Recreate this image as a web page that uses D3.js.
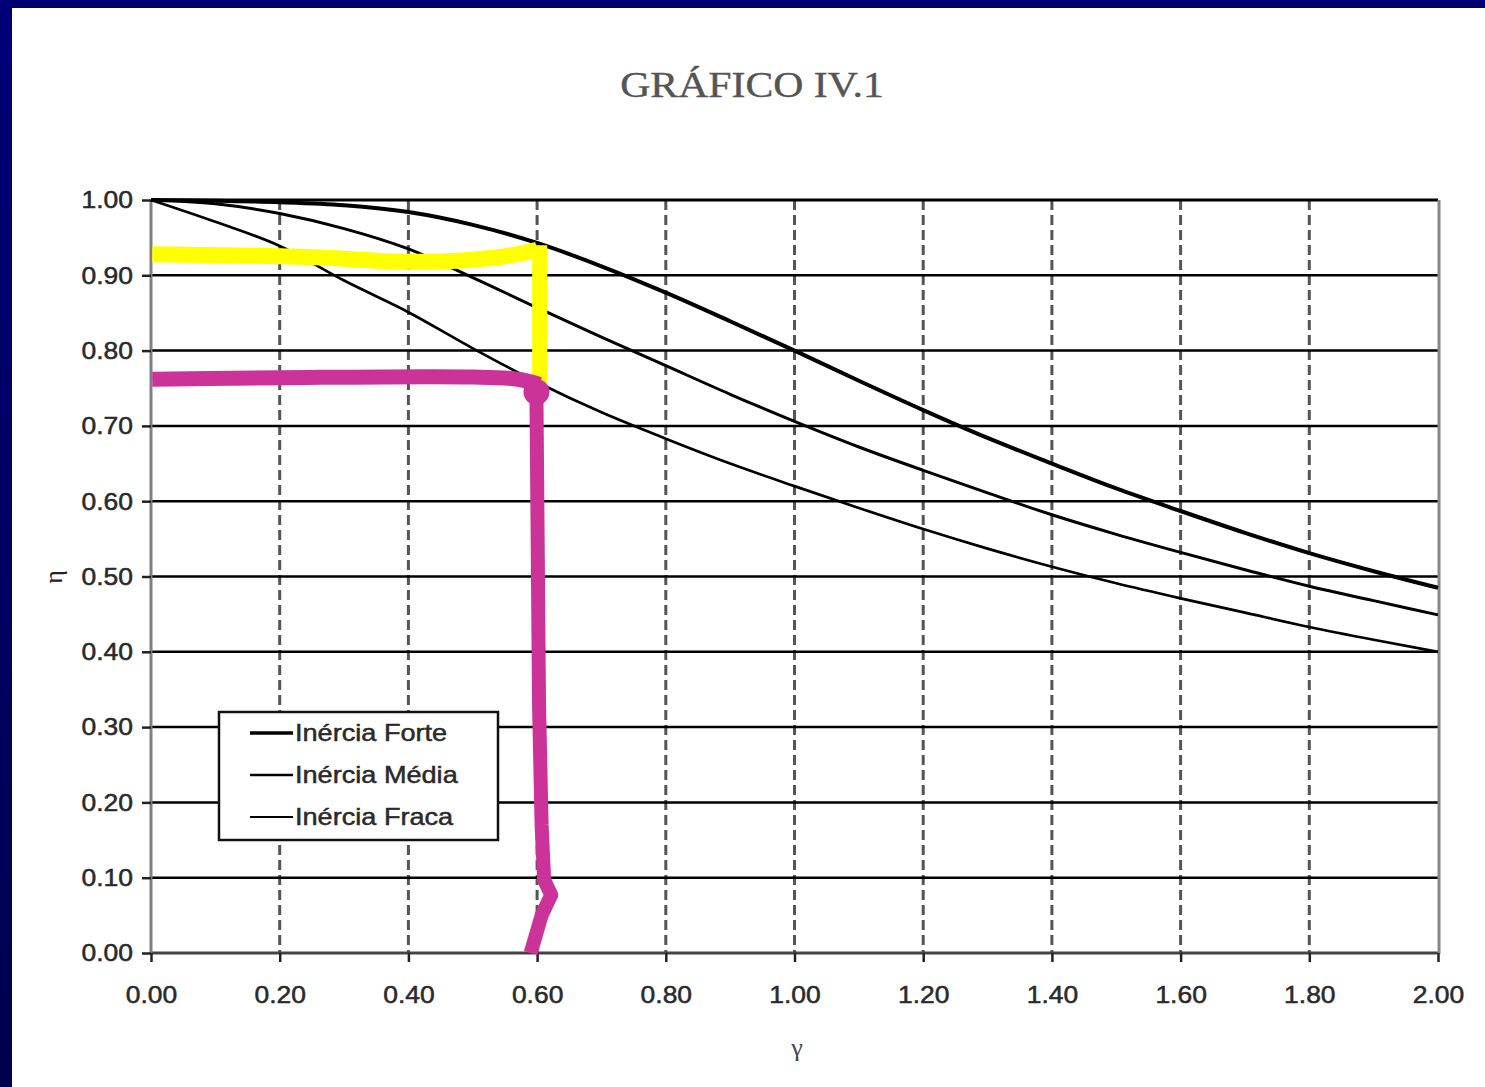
<!DOCTYPE html>
<html><head><meta charset="utf-8">
<script src="https://cdn.jsdelivr.net/npm/d3@7"></script>
<style>
html,body{margin:0;padding:0;background:#fff;}
svg{display:block;}
</style></head>
<body>
<script>
// ---- data ----
const gammaValues = [0,0.1,0.2,0.3,0.4,0.5,0.6,0.7,0.8,0.9,1.0,1.1,1.2,1.3,1.4,1.5,1.6,1.7,1.8,1.9,2.0];
const inerciaForte = [1.000,0.999,0.997,0.993,0.984,0.967,0.943,0.912,0.877,0.839,0.800,0.760,0.721,0.684,0.650,0.617,0.587,0.558,0.531,0.507,0.485];
const inerciaMedia = [1.000,0.995,0.982,0.962,0.935,0.897,0.857,0.818,0.780,0.742,0.706,0.672,0.641,0.611,0.582,0.556,0.532,0.509,0.487,0.468,0.449];
const inerciaFraca = [1.000,0.971,0.939,0.893,0.851,0.803,0.758,0.718,0.683,0.650,0.620,0.591,0.563,0.537,0.513,0.491,0.471,0.452,0.433,0.416,0.400];
const seriesNames = ["Inércia Forte","Inércia Média","Inércia Fraca"];
const yTicks = [0,0.1,0.2,0.3,0.4,0.5,0.6,0.7,0.8,0.9,1.0];
const xTicks = [0,0.2,0.4,0.6,0.8,1.0,1.2,1.4,1.6,1.8,2.0];
// hand-drawn highlighter strokes, in data units (gamma, eta)
const yellowStroke = [[0.002,0.928],[0.15,0.926],[0.28,0.923],[0.39,0.918],[0.49,0.920],[0.555,0.926],[0.60,0.934]];
const yellowVertical = [[0.604,0.940],[0.604,0.756]];
const magentaStroke = [[0.002,0.762],[0.2,0.764],[0.5,0.765],[0.57,0.762],[0.604,0.755]];
const magentaDot = [0.599,0.745];
const magentaVertical = [[0.599,0.740],[0.603,0.33],[0.607,0.17],[0.611,0.097],[0.622,0.077],[0.607,0.05],[0.590,0.000]];

const W = 1485, H = 1087;
const svg = d3.select("body").append("svg").attr("width", W).attr("height", H);

// frame
const defs = svg.append("defs");
const g1 = defs.append("linearGradient").attr("id","lb").attr("x1",0).attr("y1",0).attr("x2",0).attr("y2",1);
g1.append("stop").attr("offset","0%").attr("stop-color","#000078");
g1.append("stop").attr("offset","100%").attr("stop-color","#00004e");
svg.append("rect").attr("x",0).attr("y",0).attr("width",W).attr("height",H).attr("fill","#fff");
svg.append("rect").attr("x",0).attr("y",0).attr("width",W).attr("height",8).attr("fill","#000070");
svg.append("rect").attr("x",0).attr("y",0).attr("width",12).attr("height",H).attr("fill","url(#lb)");

const x = d3.scaleLinear().domain([0,2]).range([151,1438]);
const y = d3.scaleLinear().domain([0,1]).range([953,200]);
const SX = 1.15;

// title
svg.append("text").attr("x",752).attr("y",97).attr("text-anchor","middle")
  .attr("font-family","Liberation Serif, Times New Roman, serif").attr("font-size",36)
  .attr("fill","#555").attr("stroke","#555").attr("stroke-width",0.4)
  .attr("transform",`translate(752,0) scale(1.16,1) translate(-752,0)`)
  .text("GRÁFICO IV.1");

// vertical dashed grid
svg.append("g").selectAll("line").data(xTicks.filter(d=>d>0 && d<2)).join("line")
  .attr("x1",d=>x(d)).attr("x2",d=>x(d)).attr("y1",y(1)).attr("y2",y(0))
  .attr("stroke","#555").attr("stroke-width",3).attr("stroke-dasharray","10,5");

// horizontal grid
svg.append("g").selectAll("line").data(yTicks).join("line")
  .attr("x1",x(0)).attr("x2",x(2)).attr("y1",d=>y(d)).attr("y2",d=>y(d))
  .attr("stroke",d=>d===0?"#444":"#000").attr("stroke-width",d=>(d===0||d===1)?3:2.5);

// right border
svg.append("line").attr("x1",x(2)+1).attr("x2",x(2)+1).attr("y1",y(1)).attr("y2",y(0)+1)
  .attr("stroke","#888").attr("stroke-width",3);

// axes
const yAxis = svg.append("g").attr("transform",`translate(${x(0)},0)`)
  .call(d3.axisLeft(y).tickValues(yTicks).tickFormat(d3.format(".2f")).tickSize(9).tickPadding(0));
const xAxis = svg.append("g").attr("transform",`translate(0,${y(0)})`)
  .call(d3.axisBottom(x).tickValues(xTicks).tickFormat(d3.format(".2f")).tickSize(9).tickPadding(0));
[yAxis,xAxis].forEach(a=>{
  a.select(".domain").attr("stroke","#808080").attr("stroke-width",3);
  a.selectAll(".tick line").attr("stroke","#222").attr("stroke-width",2.5);
  a.selectAll(".tick text").attr("font-family","Liberation Sans, Arial, sans-serif")
    .attr("font-size",23).attr("fill","#2a2a2a").attr("stroke","#2a2a2a").attr("stroke-width",0.5);
});
xAxis.select(".domain").remove();
yAxis.select(".domain").attr("d",`M0,${y(1)}V${y(0)}`);
yAxis.selectAll(".tick text").attr("x",-18/SX).attr("dy","0.34em").attr("transform",`scale(${SX},1)`);
xAxis.selectAll(".tick text").attr("y",50).attr("dy",0).attr("transform",`scale(${SX},1)`);

// axis titles
svg.append("text").attr("transform","translate(62,577) rotate(-90)").attr("text-anchor","middle")
  .attr("font-family","Liberation Serif, serif").attr("font-size",26).attr("fill","#222").text("η");
svg.append("text").attr("x",797).attr("y",1056).attr("text-anchor","middle")
  .attr("font-family","Liberation Serif, serif").attr("font-size",26).attr("fill","#444").text("γ");

// curves
const series = [
  {name:seriesNames[0], vals:inerciaForte, w:4},
  {name:seriesNames[1], vals:inerciaMedia, w:3},
  {name:seriesNames[2], vals:inerciaFraca, w:2.7}
];
const line = d3.line().x(d=>x(d[0])).y(d=>y(d[1])).curve(d3.curveMonotoneX);
svg.append("g").selectAll("path").data(series).join("path")
  .attr("d",s=>line(gammaValues.map((g,i)=>[g,s.vals[i]])))
  .attr("fill","none").attr("stroke","#000").attr("stroke-width",s=>s.w);

// legend
const lg = svg.append("g");
lg.append("rect").attr("x",219).attr("y",712).attr("width",279).attr("height",128)
  .attr("fill","#fff").attr("stroke","#111").attr("stroke-width",2.5);
series.forEach((s,i)=>{
  const ly = 733 + i*42;
  lg.append("line").attr("x1",250).attr("x2",293).attr("y1",ly).attr("y2",ly)
    .attr("stroke","#000").attr("stroke-width",s.w-0.5);
  lg.append("text").attr("x",295).attr("y",ly+8).attr("font-family","Liberation Sans, Arial, sans-serif")
    .attr("font-size",24).attr("fill","#2a2a2a").attr("stroke","#2a2a2a").attr("stroke-width",0.5)
    .attr("transform",`translate(295,0) scale(1.13,1) translate(-295,0)`)
    .text(s.name);
});

// highlighter annotations
const hl = d3.line().x(d=>x(d[0])).y(d=>y(d[1])).curve(d3.curveCatmullRom);
svg.append("path").attr("d",hl(yellowStroke)).attr("fill","none").attr("stroke","#ffff00")
  .attr("stroke-width",16).attr("stroke-linecap","butt");
svg.append("path").attr("d",d3.line().x(d=>x(d[0])).y(d=>y(d[1]))(yellowVertical)).attr("fill","none")
  .attr("stroke","#ffff00").attr("stroke-width",15).attr("stroke-linecap","butt");
svg.append("path").attr("d",hl(magentaStroke)).attr("fill","none").attr("stroke","#cc3399")
  .attr("stroke-width",15).attr("stroke-linecap","butt");
svg.append("circle").attr("cx",x(magentaDot[0])).attr("cy",y(magentaDot[1])).attr("r",13).attr("fill","#cc3399");
svg.append("path").attr("d",d3.line().x(d=>x(d[0])).y(d=>y(d[1])).curve(d3.curveLinear)(magentaVertical))
  .attr("fill","none").attr("stroke","#cc3399").attr("stroke-width",14).attr("stroke-linejoin","round");
</script>
</body></html>
